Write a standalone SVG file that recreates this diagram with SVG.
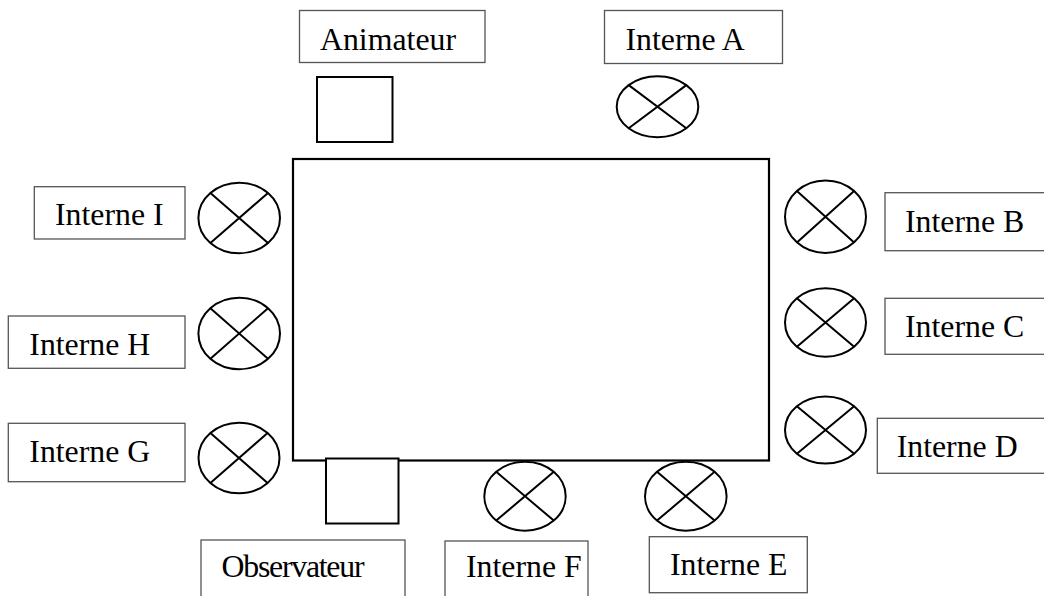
<svg xmlns="http://www.w3.org/2000/svg" width="1044" height="596" viewBox="0 0 1044 596">
<style>
.lbl{fill:#fff;stroke:#555;stroke-width:1.3}
.t{font-family:"Liberation Serif","Times New Roman",serif;font-size:31.8px;fill:#000}
.seat{fill:#fff;stroke:#000;stroke-width:2}
.x{stroke:#000;stroke-width:2;fill:none}
.sq{fill:#fff;stroke:#000;stroke-width:2}
</style>
<rect width="1044" height="596" fill="#fff"/>
<g id="table"><rect x="293" y="159" width="476" height="301.5" fill="#fff" stroke="#000" stroke-width="2.2"/></g>
<g id="connectors"></g>

<g id="animateur">
<rect class="lbl" x="299.5" y="10.5" width="185.5" height="52"/>
<text class="t" x="320" y="50">Animateur</text>
<rect class="sq" x="317" y="77" width="75.5" height="65"/>
</g>

<g id="observateur">
<rect class="lbl" x="201" y="540" width="204" height="70"/>
<text class="t" x="221.5" y="577" textLength="143">Observateur</text>
<rect class="sq" x="326" y="458.5" width="72.5" height="65"/>
</g>

<g id="interne-a">
<rect class="lbl" x="604.5" y="10.5" width="178" height="53"/>
<text class="t" x="625.5" y="50">Interne A</text>
<ellipse class="seat" cx="657.5" cy="106.7" rx="40.8" ry="30.5"/>
<path class="x" d="M628.7,85.1L686.3,128.3M628.7,128.3L686.3,85.1"/>
</g>

<g id="interne-b">
<rect class="lbl" x="885" y="192.7" width="170" height="58"/>
<text class="t" x="905" y="232">Interne B</text>
<ellipse class="seat" cx="825.5" cy="216.7" rx="40.5" ry="36.3"/>
<path class="x" d="M796.9,191L854.1,242.4M796.9,242.4L854.1,191"/>
</g>

<g id="interne-c">
<rect class="lbl" x="885" y="298.3" width="170" height="56"/>
<text class="t" x="905" y="336.7">Interne C</text>
<ellipse class="seat" cx="825.5" cy="322.5" rx="40.5" ry="34.2"/>
<path class="x" d="M796.9,298.3L854.1,346.7M796.9,346.7L854.1,298.3"/>
</g>

<g id="interne-d">
<rect class="lbl" x="877.3" y="418.3" width="180" height="55"/>
<text class="t" x="896.7" y="456.7">Interne D</text>
<ellipse class="seat" cx="825.5" cy="430" rx="40.5" ry="33.5"/>
<path class="x" d="M796.9,406.3L854.1,453.7M796.9,453.7L854.1,406.3"/>
</g>

<g id="interne-e">
<rect class="lbl" x="649.3" y="536.7" width="158" height="56"/>
<text class="t" x="670" y="575">Interne E</text>
<ellipse class="seat" cx="685.8" cy="496.2" rx="40.8" ry="34.5"/>
<path class="x" d="M657,471.8L714.6,520.6M657,520.6L714.6,471.8"/>
</g>

<g id="interne-f">
<rect class="lbl" x="445" y="541" width="143" height="70"/>
<text class="t" x="466" y="577">Interne F</text>
<ellipse class="seat" cx="525" cy="496.2" rx="40.7" ry="34.5"/>
<path class="x" d="M496.2,471.8L553.8,520.6M496.2,520.6L553.8,471.8"/>
</g>

<g id="interne-g">
<rect class="lbl" x="8.3" y="423.3" width="176.7" height="58.4"/>
<text class="t" x="29.3" y="462.3">Interne G</text>
<ellipse class="seat" cx="239" cy="458" rx="40.5" ry="35.3"/>
<path class="x" d="M210.4,433L267.6,483M210.4,483L267.6,433"/>
</g>

<g id="interne-h">
<rect class="lbl" x="8.3" y="316" width="176.7" height="52.3"/>
<text class="t" x="29.3" y="355">Interne H</text>
<ellipse class="seat" cx="239.2" cy="333.5" rx="40.8" ry="35.8"/>
<path class="x" d="M210.4,308.2L268,358.8M210.4,358.8L268,308.2"/>
</g>

<g id="interne-i">
<rect class="lbl" x="34.3" y="186.7" width="150.7" height="52.3"/>
<text class="t" x="55" y="225">Interne I</text>
<ellipse class="seat" cx="239.2" cy="218" rx="40.8" ry="35.3"/>
<path class="x" d="M210.4,193L268,243M210.4,243L268,193"/>
</g>
</svg>
